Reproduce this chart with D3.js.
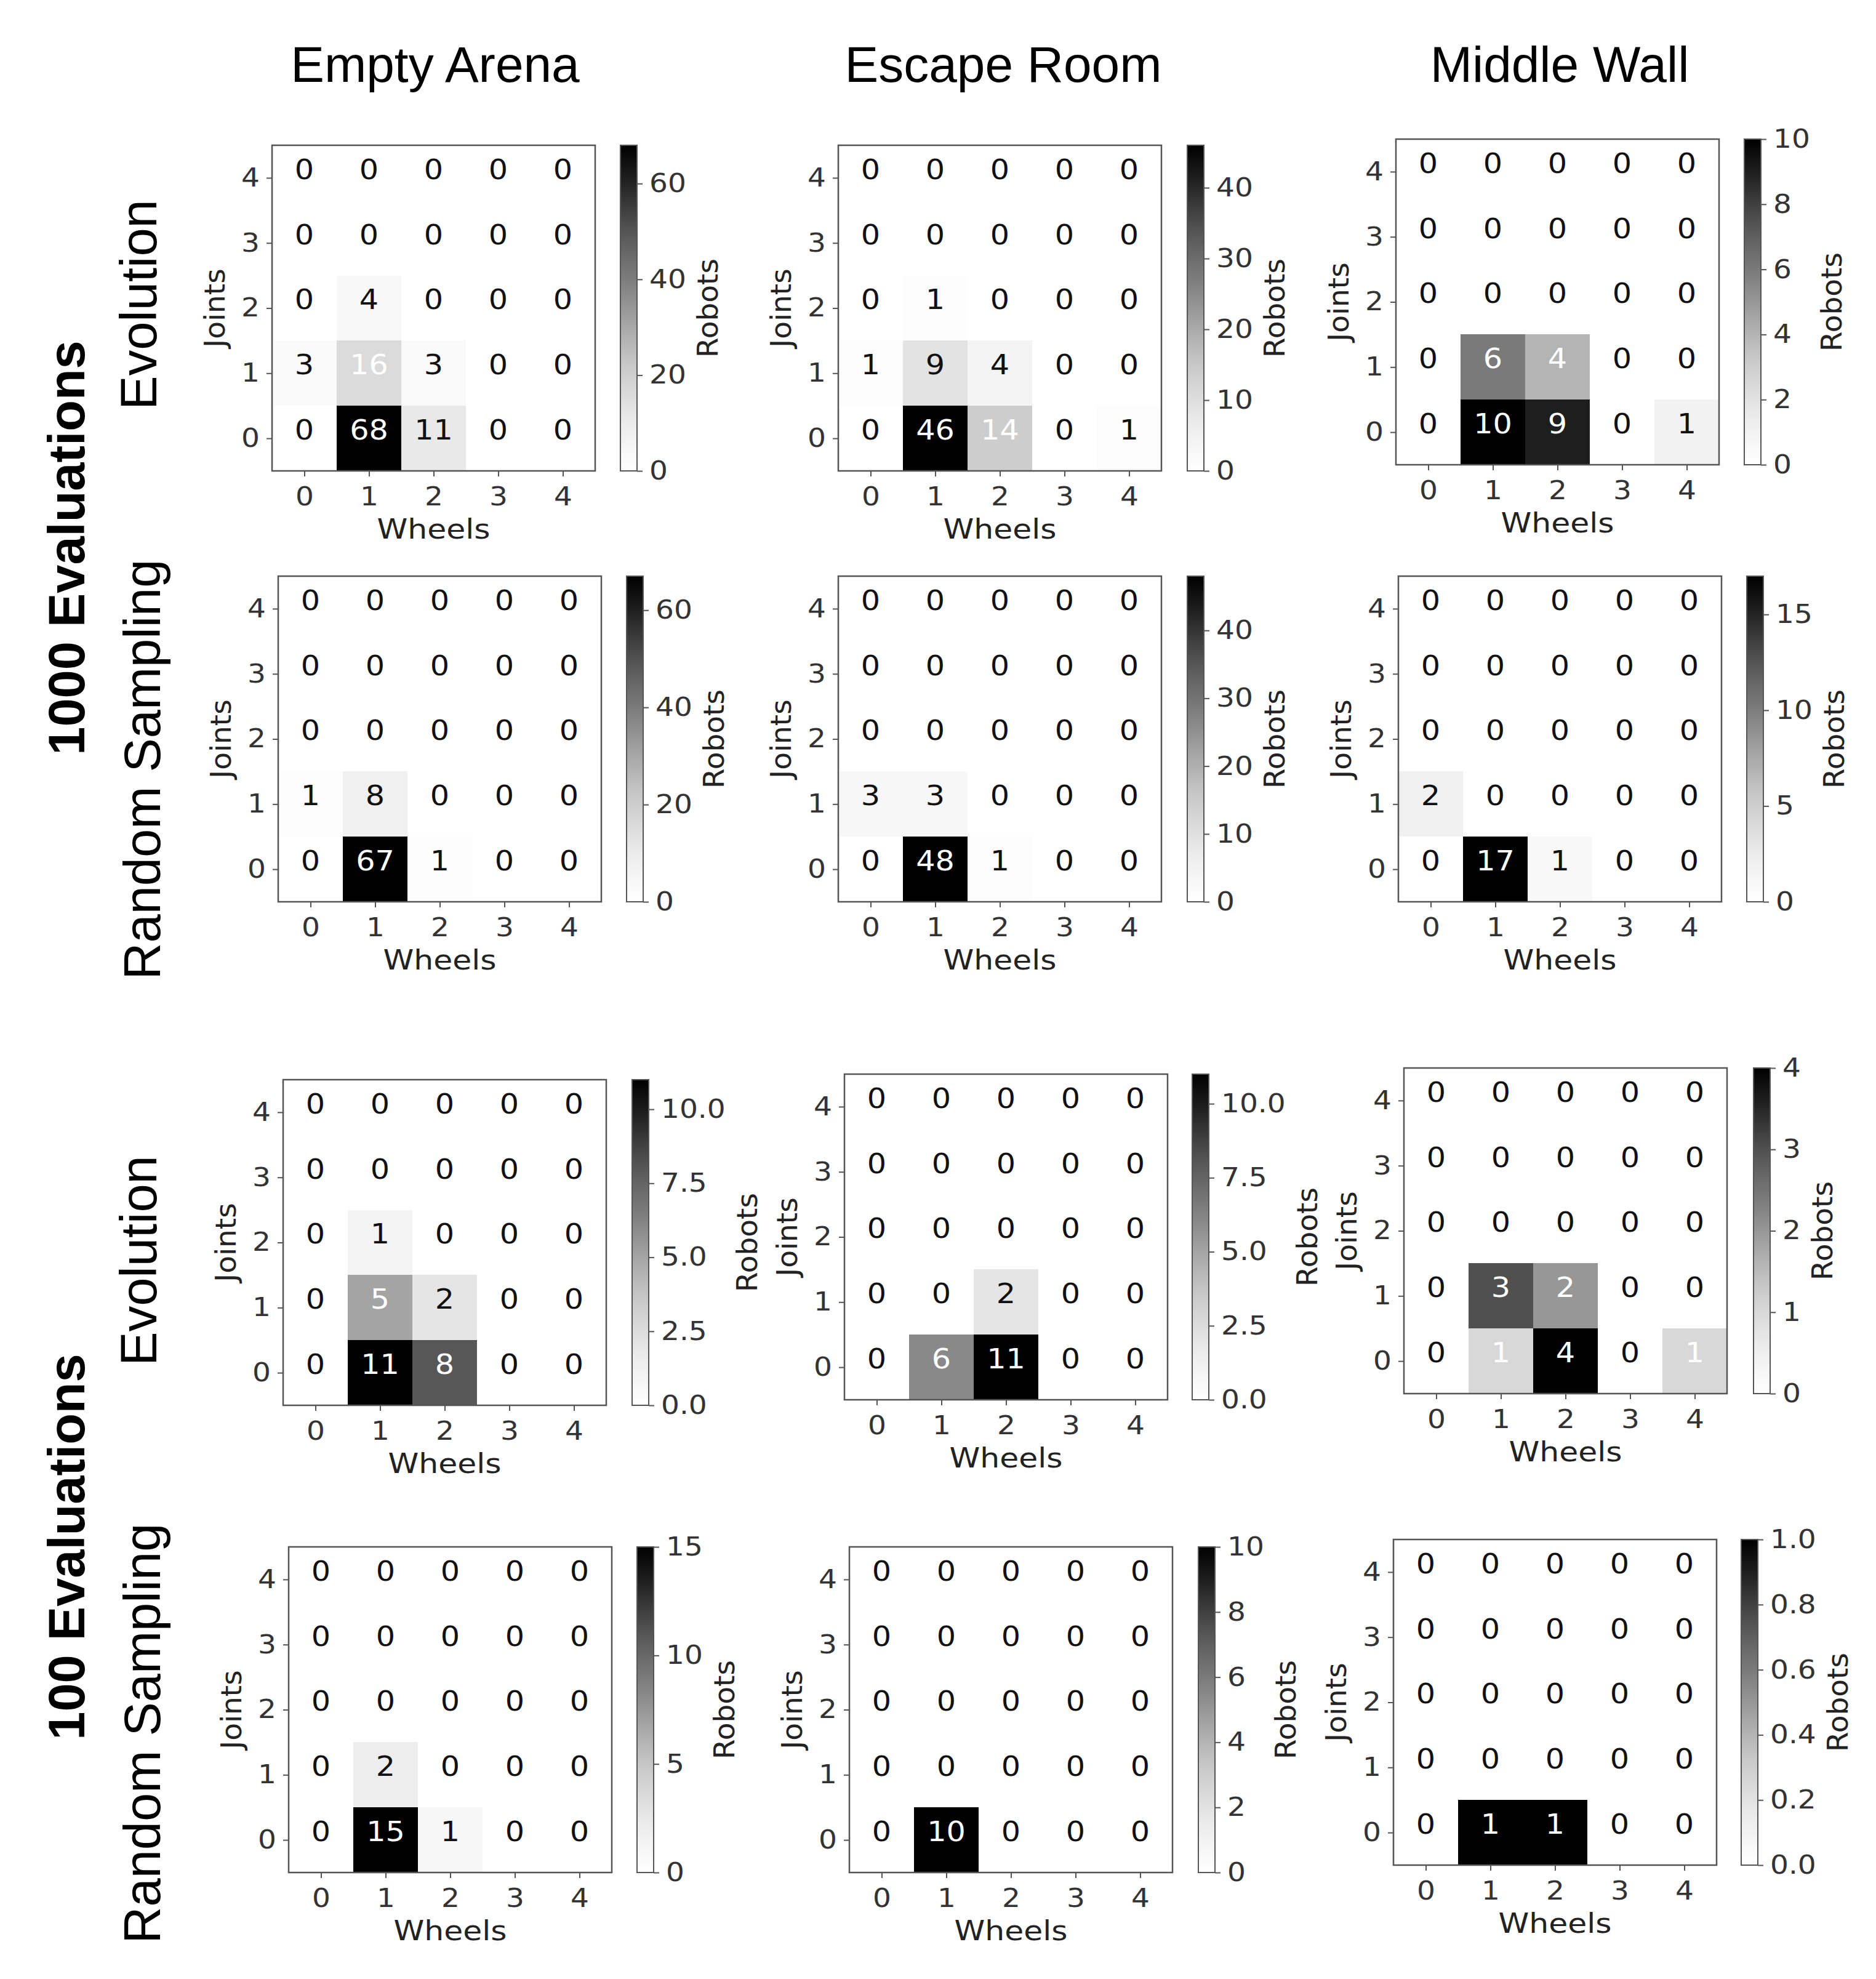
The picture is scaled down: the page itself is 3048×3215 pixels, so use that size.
<!DOCTYPE html>
<html>
<head>
<meta charset="utf-8">
<script src="https://cdn.jsdelivr.net/npm/d3@7"></script>
<style>
  body { margin: 0; background: #fff; }
  svg { display: block; }
</style>
</head>
<body>
<svg id="fig" width="3048" height="3215"></svg>
<script>
// axis categories
var wheels = [0, 1, 2, 3, 4];
var joints = [0, 1, 2, 3, 4];

var arenas = ["Empty Arena", "Escape Room", "Middle Wall"];
var budgets = ["1000 Evaluations", "100 Evaluations"];
var methods = ["Evolution", "Random Sampling"];

// robot counts, one row per joint count (0 at the bottom), one column per wheel count
var evo1000Empty  = [[0, 68, 11, 0, 0], [3, 16, 3, 0, 0], [0, 4, 0, 0, 0], [0, 0, 0, 0, 0], [0, 0, 0, 0, 0]];
var evo1000Escape = [[0, 46, 14, 0, 1], [1, 9, 4, 0, 0], [0, 1, 0, 0, 0], [0, 0, 0, 0, 0], [0, 0, 0, 0, 0]];
var evo1000Middle = [[0, 10, 9, 0, 1], [0, 6, 4, 0, 0], [0, 0, 0, 0, 0], [0, 0, 0, 0, 0], [0, 0, 0, 0, 0]];

var rand1000Empty  = [[0, 67, 1, 0, 0], [1, 8, 0, 0, 0], [0, 0, 0, 0, 0], [0, 0, 0, 0, 0], [0, 0, 0, 0, 0]];
var rand1000Escape = [[0, 48, 1, 0, 0], [3, 3, 0, 0, 0], [0, 0, 0, 0, 0], [0, 0, 0, 0, 0], [0, 0, 0, 0, 0]];
var rand1000Middle = [[0, 17, 1, 0, 0], [2, 0, 0, 0, 0], [0, 0, 0, 0, 0], [0, 0, 0, 0, 0], [0, 0, 0, 0, 0]];

var evo100Empty  = [[0, 11, 8, 0, 0], [0, 5, 2, 0, 0], [0, 1, 0, 0, 0], [0, 0, 0, 0, 0], [0, 0, 0, 0, 0]];
var evo100Escape = [[0, 6, 11, 0, 0], [0, 0, 2, 0, 0], [0, 0, 0, 0, 0], [0, 0, 0, 0, 0], [0, 0, 0, 0, 0]];
var evo100Middle = [[0, 1, 4, 0, 1], [0, 3, 2, 0, 0], [0, 0, 0, 0, 0], [0, 0, 0, 0, 0], [0, 0, 0, 0, 0]];

var rand100Empty  = [[0, 15, 1, 0, 0], [0, 2, 0, 0, 0], [0, 0, 0, 0, 0], [0, 0, 0, 0, 0], [0, 0, 0, 0, 0]];
var rand100Escape = [[0, 10, 0, 0, 0], [0, 0, 0, 0, 0], [0, 0, 0, 0, 0], [0, 0, 0, 0, 0], [0, 0, 0, 0, 0]];
var rand100Middle = [[0, 1, 1, 0, 0], [0, 0, 0, 0, 0], [0, 0, 0, 0, 0], [0, 0, 0, 0, 0], [0, 0, 0, 0, 0]];

// colorbar tick labels per panel (same order as the grids)
var cbTicks = [
  ["0", "20", "40", "60"], ["0", "10", "20", "30", "40"], ["0", "2", "4", "6", "8", "10"],
  ["0", "20", "40", "60"], ["0", "10", "20", "30", "40"], ["0", "5", "10", "15"],
  ["0.0", "2.5", "5.0", "7.5", "10.0"], ["0.0", "2.5", "5.0", "7.5", "10.0"], ["0", "1", "2", "3", "4"],
  ["0", "5", "10", "15"], ["0", "2", "4", "6", "8", "10"], ["0.0", "0.2", "0.4", "0.6", "0.8", "1.0"]
];

var grids = [
  evo1000Empty, evo1000Escape, evo1000Middle,
  rand1000Empty, rand1000Escape, rand1000Middle,
  evo100Empty, evo100Escape, evo100Middle,
  rand100Empty, rand100Escape, rand100Middle
];

// where each sub-image sits on the page: heatmap box left/top, colorbar left
var layout = [
  [442, 236, 1008], [1362, 236, 1929], [2268, 226, 2834],
  [452, 936, 1018], [1362, 936, 1929], [2272, 936, 2838],
  [460, 1754, 1027], [1372, 1745, 1937], [2281, 1735, 2849],
  [469, 2513, 1035], [1380, 2513, 1947], [2264, 2501, 2829]
];
var boxW = 525, boxH = 529, cbW = 27;
var stretch = 1.12;   // the sub-plots in the source are a bit wider than tall

var tickFont = "'DejaVu Sans', sans-serif";
var headFont = "'Liberation Sans', Arial, sans-serif";

var svg = d3.select("#fig");
svg.append("rect").attr("width", 3048).attr("height", 3215).attr("fill", "#fff");
var defs = svg.append("defs");

// widen text horizontally around its anchor point
function widen(sel) {
   sel.each(function () {
      var t = d3.select(this);
      var tx = +t.attr("x") || 0, ty = +t.attr("y") || 0;
      t.attr("x", 0).attr("y", 0)
       .attr("transform", "translate(" + tx + "," + ty + ") scale(" + stretch + ",1)");
   });
}

// column titles
var titleX = [707, 1630, 2534];
svg.selectAll("text.coltitle")
   .data(arenas)
   .enter().append("text")
   .attr("class", "coltitle")
   .attr("x", function (d, i) { return titleX[i]; })
   .attr("y", 133)
   .attr("text-anchor", "middle")
   .style("font-family", headFont)
   .style("font-size", "82px")
   .text(function (d) { return d; });

// row labels
function vlabel(txt, cx, cy, bold) {
   svg.append("text")
      .attr("transform", "translate(" + cx + "," + cy + ") rotate(-90)")
      .attr("text-anchor", "middle")
      .attr("dy", "0.36em")
      .style("font-family", headFont)
      .style("font-size", "83px")
      .style("font-weight", bold ? "bold" : "normal")
      .text(txt);
}
vlabel(budgets[0], 107, 890, true);
vlabel(budgets[1], 107, 2513, true);
vlabel(methods[0], 224, 495, false);
vlabel(methods[1], 230, 1250, false);
vlabel(methods[0], 224, 2048, false);
vlabel(methods[1], 230, 2816, false);

grids.forEach(function (grid, p) {
   var bx = layout[p][0], by = layout[p][1], cx = layout[p][2];
   var ticks = cbTicks[p];
   var vmax = d3.max(grid, function (r) { return d3.max(r); });

   var x = d3.scaleLinear().domain([-0.5, 4.5]).range([0, boxW]);
   var y = d3.scaleLinear().domain([-0.5, 4.5]).range([boxH, 0]);
   var color = d3.scaleSequential(d3.interpolateGreys).domain([0, vmax]);

   var g = svg.append("g").attr("transform", "translate(" + bx + "," + by + ")");

   var cells = [];
   grid.forEach(function (row, j) {
      row.forEach(function (v, w) { cells.push({w: wheels[w], j: joints[j], v: v}); });
   });

   g.selectAll("rect.cell")
    .data(cells)
    .enter().append("rect")
    .attr("class", "cell")
    .attr("x", function (d) { return x(d.w - 0.5); })
    .attr("y", function (d) { return y(d.j + 0.5); })
    .attr("width", x(0.5) - x(-0.5))
    .attr("height", y(-0.5) - y(0.5))
    .attr("fill", function (d) { return color(d.v); })
    .attr("shape-rendering", "crispEdges");

   g.selectAll("text.annot")
    .data(cells)
    .enter().append("text")
    .attr("class", "annot")
    .attr("x", function (d) { return x(d.w); })
    .attr("y", function (d) { return y(d.j) - 14; })
    .attr("dy", "0.36em")
    .attr("text-anchor", "middle")
    .style("font-family", tickFont)
    .style("font-size", "44px")
    .attr("fill", function (d) { return d.v / vmax > 0.21 ? "#fff" : "#111"; })
    .text(function (d) { return d.v; })
    .call(widen);

   g.append("rect")
    .attr("width", boxW).attr("height", boxH)
    .attr("fill", "none").attr("stroke", "#555").attr("stroke-width", 2.5);

   var xAxis = g.append("g")
    .attr("transform", "translate(0," + boxH + ")")
    .call(d3.axisBottom(x).tickValues(wheels).tickSize(9).tickPadding(17).tickFormat(d3.format("d")));
   var yAxis = g.append("g")
    .call(d3.axisLeft(y).tickValues(joints).tickSize(9).tickPadding(11).tickFormat(d3.format("d")));
   [xAxis, yAxis].forEach(function (a) {
      a.select(".domain").remove();
      a.selectAll("line").attr("stroke", "#555").attr("stroke-width", 2);
      a.selectAll("text").attr("fill", "#333").style("font-family", tickFont).style("font-size", "42px")
       .call(widen);
   });

   g.append("text")
    .attr("x", boxW / 2).attr("y", boxH + 110)
    .attr("text-anchor", "middle")
    .attr("fill", "#222")
    .style("font-family", tickFont).style("font-size", "45px")
    .text("Wheels")
    .call(widen);

   var ybb = yAxis.node().getBBox();
   g.append("text")
    .attr("transform", "translate(" + (ybb.x - 27) + "," + (boxH / 2) + ") rotate(-90)")
    .attr("text-anchor", "middle")
    .attr("fill", "#222")
    .style("font-family", tickFont).style("font-size", "47px")
    .text("Joints");

   // colorbar
   var gid = "grad" + p;
   var grad = defs.append("linearGradient").attr("id", gid)
    .attr("x1", 0).attr("y1", 1).attr("x2", 0).attr("y2", 0);
   d3.range(0, 1.0001, 0.05).forEach(function (t) {
      grad.append("stop").attr("offset", t).attr("stop-color", d3.interpolateGreys(t));
   });
   var cg = svg.append("g").attr("transform", "translate(" + cx + "," + by + ")");
   cg.append("rect").attr("width", cbW).attr("height", boxH)
     .attr("fill", "url(#" + gid + ")").attr("stroke", "#555").attr("stroke-width", 2);
   var cy = d3.scaleLinear().domain([0, vmax]).range([boxH, 0]);
   var cAxis = cg.append("g")
    .attr("transform", "translate(" + cbW + ",0)")
    .call(d3.axisRight(cy).tickValues(ticks.map(Number)).tickSize(9).tickPadding(11)
          .tickFormat(function (d, i) { return ticks[i]; }));
   cAxis.select(".domain").remove();
   cAxis.selectAll("line").attr("stroke", "#555").attr("stroke-width", 2);
   cAxis.selectAll("text").attr("fill", "#333").style("font-family", tickFont).style("font-size", "42px")
        .each(function () {
           // widen around the left edge so labels keep their gap from the bar
           var t = d3.select(this), tx = +t.attr("x") || 0;
           t.attr("x", 0).attr("transform", "translate(" + tx + ",0) scale(" + stretch + ",1)");
        });

   var cbb = cAxis.node().getBoundingClientRect();
   var cgb = cg.node().getBoundingClientRect();
   var labelRight = cbb.right - cgb.left;
   cg.append("text")
    .attr("transform", "translate(" + (labelRight + 51) + "," + (boxH / 2) + ") rotate(-90)")
    .attr("text-anchor", "middle")
    .attr("fill", "#222")
    .style("font-family", tickFont).style("font-size", "47px")
    .text("Robots");
});
</script>
</body>
</html>
